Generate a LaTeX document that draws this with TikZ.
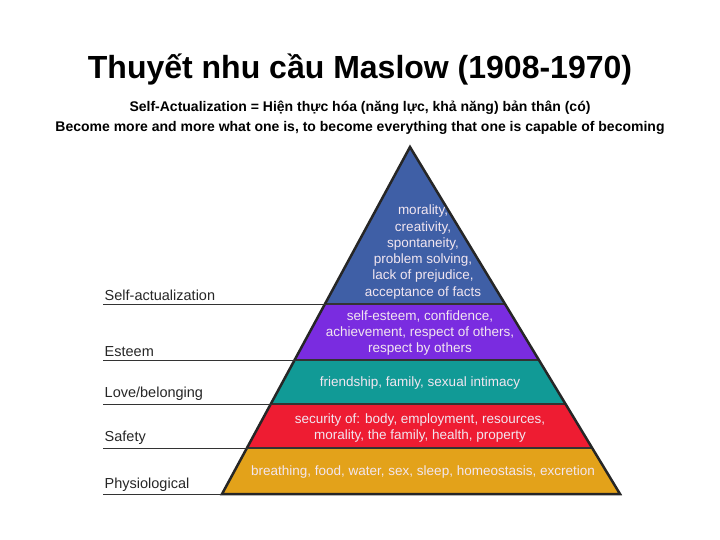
\documentclass[tikz,border=0pt]{standalone}
\usepackage{fontspec}
\setmainfont{Liberation Sans}
\definecolor{cblue}{HTML}{3F5FA6}
\definecolor{cpurp}{HTML}{7A2CE0}
\definecolor{cteal}{HTML}{119A96}
\definecolor{cred}{HTML}{EE1C32}
\definecolor{corg}{HTML}{E3A21A}
\definecolor{ctxt}{HTML}{F2E6F0}
\begin{document}
\begin{tikzpicture}[x=1pt,y=-1pt,
  lvltext/.style={text=ctxt,font=\fontsize{13.5}{16.3}\selectfont,align=center,inner sep=0pt},
  sidelabel/.style={anchor=south west,font=\fontsize{14.5}{16}\selectfont,text=black!85,inner sep=1.5pt},
  sideline/.style={draw=black!80,line width=1pt}]
\useasboundingbox (0,0) rectangle (720,540);
\node[font=\bfseries\fontsize{32}{34}\selectfont] (title) at (360,70) {Thuyết nhu cầu Maslow (1908-1970)};
\node[font=\bfseries\fontsize{14}{16}\selectfont] (sub1) at (360,108) {Self-Actualization = Hiện thực hóa (năng lực, khả năng) bản thân (có)};
\node[font=\bfseries\fontsize{14}{16}\selectfont] (sub2) at (360,128) {Become more and more what one is, to become everything that one is capable of becoming};
\coordinate (A) at (410,147);
\coordinate (L) at (222,494);
\coordinate (R) at (620,494);
\begin{scope}
\clip (A) -- (L) -- (R) -- cycle;
\fill[cblue] (200,140) rectangle (640,304);
\fill[cpurp] (200,304) rectangle (640,360);
\fill[cteal] (200,360) rectangle (640,404);
\fill[cred] (200,404) rectangle (640,448);
\fill[corg] (200,448) rectangle (640,500);
\foreach \y in {304,360,404,448} \draw[black!80,line width=1.3pt] (200,\y) -- (640,\y);
\end{scope}
\draw[black!85,line width=2.5pt,line join=miter] (A) -- (L) -- (R) -- cycle;
\node[lvltext] (t1) at (423,252) {morality,\\creativity,\\spontaneity,\\problem solving,\\lack of prejudice,\\acceptance of facts};
\node[lvltext] (t2) at (420,333) {self-esteem, confidence,\\achievement, respect of others,\\respect by others};
\node[lvltext] (t3) at (420,383) {friendship, family, sexual intimacy};
\node[lvltext] (t4) at (420,428) {security of: body, employment, resources,\\morality, the family, health, property};
\node[lvltext] (t5) at (423,472) {breathing, food, water, sex, sleep, homeostasis, excretion};
\node[sidelabel] (s1) at (103,302) {Self-actualization};
\node[sidelabel] (s2) at (103,358) {Esteem};
\node[sidelabel] (s3) at (103,402) {Love/belonging};
\node[sidelabel] (s4) at (103,446) {Safety};
\node[sidelabel] (s5) at (103,493) {Physiological};
\draw[sideline] (103,304) -- (327,304);
\draw[sideline] (103,360) -- (297,360);
\draw[sideline] (103,404) -- (273,404);
\draw[sideline] (103,448) -- (249,448);
\draw[sideline] (103,494) -- (222,494);
\end{tikzpicture}
\end{document}
